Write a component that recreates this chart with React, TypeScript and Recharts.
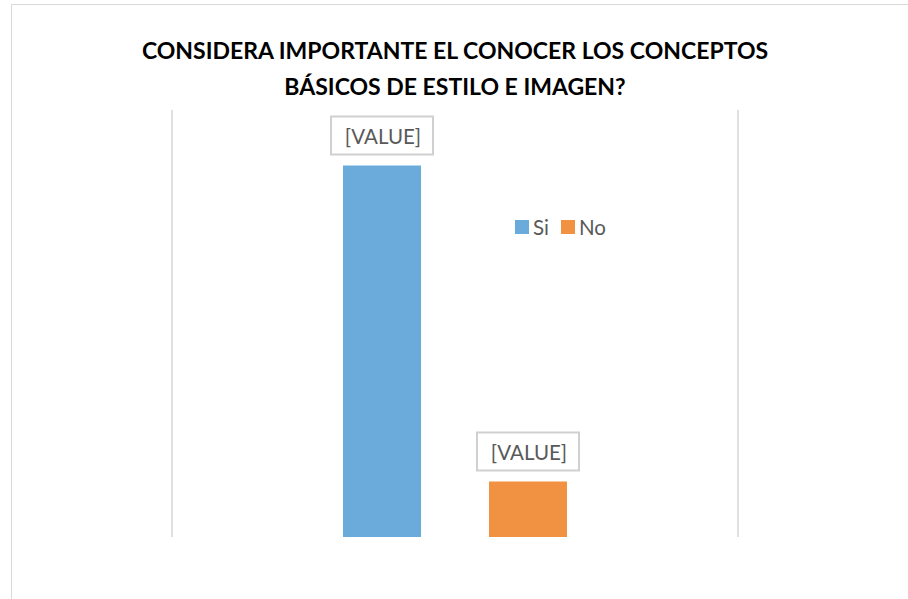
import { BarChart, Bar, XAxis, YAxis, CartesianGrid, Legend, LabelList } from "recharts";

const categories = [""];
const siValues = [87];
const noValues = [13];
const seriesNames = ["Si", "No"];

const COLORS = ["#6AABDC", "#F09242"];

const data = categories.map((c, i) => ({ name: c, Si: siValues[i], No: noValues[i] }));

const FONT = "Lato, 'Open Sans', sans-serif";

function ValueBox(props: any) {
  const { x, y, width } = props;
  const cx = x + width / 2;
  const boxW = 102;
  const boxH = 38;
  const top = y - 11 - boxH;
  return (
    <g>
      <rect x={cx - boxW / 2} y={top} width={boxW} height={boxH} fill="#fff" stroke="#d0d0d0" strokeWidth={2} />
      <text x={cx + 1} y={top + boxH / 2 + 3} textAnchor="middle" dominantBaseline="middle" fill="#595959" fontSize={20.5} fontFamily={FONT}>
        [VALUE]
      </text>
    </g>
  );
}

// legend drawn in series order (Recharts sorts by name otherwise)
function LegendBox() {
  return (
    <div style={{ display: "flex", alignItems: "center", fontFamily: FONT, fontSize: 20.5, color: "#595959" }}>
      {seriesNames.map((s, i) => (
        <div key={s} style={{ display: "flex", alignItems: "center", marginRight: 12 }}>
          <span style={{ width: 14, height: 14, background: COLORS[i], display: "inline-block", marginRight: 4 }} />
          <span>{s}</span>
        </div>
      ))}
    </div>
  );
}

export default function App() {
  return (
    <div style={{ position: "fixed", left: 0, top: 0, width: 908, height: 599, background: "#fff", overflow: "hidden", fontFamily: FONT }}>
      <div style={{ position: "absolute", left: 11, top: 4, width: 920, height: 620, border: "1px solid #d9d9d9", boxSizing: "border-box" }} />
      <div
        style={{
          position: "absolute",
          left: 0,
          width: 910,
          top: 32,
          textAlign: "center",
          fontWeight: 700,
          fontSize: 23,
          lineHeight: "36px",
          color: "#000",
        }}
      >
        CONSIDERA IMPORTANTE EL CONOCER LOS CONCEPTOS
        <br />
        BÁSICOS DE ESTILO E IMAGEN?
      </div>
      <BarChart
        width={908}
        height={599}
        data={data}
        margin={{ top: 110, right: 170, bottom: 62, left: 172 }}
        barCategoryGap={171}
        barGap={68}
        style={{ position: "absolute", left: 0, top: 0 }}
      >
        <CartesianGrid
          horizontal={false}
          stroke="#e0e0e0"
          strokeWidth={2}
          verticalCoordinatesGenerator={({ offset }: any) => [offset.left, offset.left + offset.width]}
        />
        <XAxis dataKey="name" hide />
        <YAxis domain={[0, 100]} hide />
        <Legend
          verticalAlign="middle"
          layout="horizontal"
          content={<LegendBox />}
          wrapperStyle={{ position: "absolute", top: 215, left: 515, width: "auto" }}
        />
        {seriesNames.map((s, i) => (
          <Bar key={s} dataKey={s} fill={COLORS[i]} isAnimationActive={false}>
            <LabelList dataKey={s} content={<ValueBox />} />
          </Bar>
        ))}
      </BarChart>
    </div>
  );
}
